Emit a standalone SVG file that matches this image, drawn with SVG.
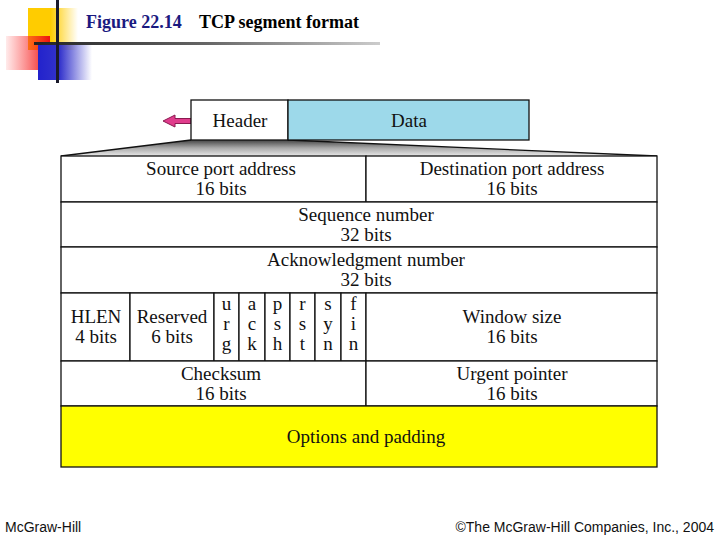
<svg xmlns="http://www.w3.org/2000/svg" width="720" height="540" viewBox="0 0 720 540">
<defs>
<linearGradient id="gY" x1="0" y1="0" x2="1" y2="0"><stop offset="0" stop-color="#FFCC00"/><stop offset="0.45" stop-color="#FFCC00"/><stop offset="1" stop-color="#FFCC00" stop-opacity="0"/></linearGradient>
<linearGradient id="gR" x1="0" y1="0" x2="1" y2="0"><stop offset="0" stop-color="#FF3333" stop-opacity="0.1"/><stop offset="1" stop-color="#EE1111"/></linearGradient>
<linearGradient id="gB" x1="0" y1="0" x2="1" y2="0"><stop offset="0" stop-color="#2222CC"/><stop offset="0.4" stop-color="#3333CC"/><stop offset="1" stop-color="#3333CC" stop-opacity="0"/></linearGradient>
<linearGradient id="gL" x1="0" y1="0" x2="1" y2="0"><stop offset="0" stop-color="#222"/><stop offset="0.5" stop-color="#666"/><stop offset="1" stop-color="#ccc"/></linearGradient>
<linearGradient id="gT" x1="0" y1="0" x2="0" y2="1"><stop offset="0" stop-color="#444"/><stop offset="0.5" stop-color="#aaa"/><stop offset="1" stop-color="#e8e8e8"/></linearGradient>
</defs>
<style>
.t{font-family:"Liberation Serif","DejaVu Serif",serif;font-size:19px;fill:#111;text-anchor:middle}
.c{fill:#fff;stroke:#111;stroke-width:1.3}
.f{font-family:"Liberation Sans",Arial,sans-serif;font-size:14px;fill:#111}
.h{font-family:"Liberation Serif",serif;font-weight:bold;font-size:18px}
</style>
<g id="decor">
<rect x="28" y="8" width="50" height="42" fill="url(#gY)"/>
<rect x="6" y="36" width="44" height="34" fill="url(#gR)"/>
<rect x="38" y="45" width="54" height="35" fill="url(#gB)"/>
<rect x="34" y="42" width="346" height="3" fill="url(#gL)"/>
<rect x="56" y="0" width="3" height="83" fill="#1a1a2a"/>
</g>
<g id="title">
<text x="86" y="28" class="h" fill="#1a1a80">Figure 22.14</text>
<text x="199" y="28" class="h" fill="#000">TCP segment format</text>
</g>
<g id="connectors">
<polygon points="191,140 288,140 657,156 61,156" fill="url(#gT)"/>
<path d="M191,140 L61,156 M288,140 L657,156" stroke="#111" stroke-width="1.3" fill="none"/>
<polygon points="163,121 175,115 175,118.5 191,118.5 191,123.5 175,123.5 175,127" fill="#E03C8C" stroke="#8a1a50" stroke-width="1"/>
</g>
<g id="header">
<rect x="191" y="100" width="97" height="40" class="c"/>
<text x="240" y="127" class="t">Header</text>
</g>
<g id="data">
<rect x="288" y="100" width="241" height="40" class="c" style="fill:#9DD9EA"/>
<text x="409" y="127" class="t">Data</text>
</g>
<g id="source-port">
<rect x="61" y="156" width="305" height="46" class="c"/>
<text x="221" y="175" class="t">Source port address</text>
<text x="221" y="195" class="t">16 bits</text>
</g>
<g id="dest-port">
<rect x="366" y="156" width="291" height="46" class="c"/>
<text x="512" y="175" class="t">Destination port address</text>
<text x="512" y="195" class="t">16 bits</text>
</g>
<g id="sequence">
<rect x="61" y="202" width="596" height="45" class="c"/>
<text x="366" y="221" class="t">Sequence number</text>
<text x="366" y="241" class="t">32 bits</text>
</g>
<g id="ack">
<rect x="61" y="247" width="596" height="46" class="c"/>
<text x="366" y="266" class="t">Acknowledgment number</text>
<text x="366" y="286" class="t">32 bits</text>
</g>
<g id="hlen">
<rect x="61" y="293" width="69" height="68" class="c"/>
<text x="96" y="323" class="t">HLEN</text>
<text x="96" y="343" class="t">4 bits</text>
</g>
<g id="reserved">
<rect x="130" y="293" width="84" height="68" class="c"/>
<text x="172" y="323" class="t">Reserved</text>
<text x="172" y="343" class="t">6 bits</text>
</g>
<g id="flag-urg">
<rect x="214" y="293" width="25" height="68" class="c"/>
<text x="226.5" y="310" class="t">u</text><text x="226.5" y="330" class="t">r</text><text x="226.5" y="350" class="t">g</text>
</g>
<g id="flag-ack">
<rect x="239" y="293" width="26" height="68" class="c"/>
<text x="252" y="310" class="t">a</text><text x="252" y="330" class="t">c</text><text x="252" y="350" class="t">k</text>
</g>
<g id="flag-psh">
<rect x="265" y="293" width="25" height="68" class="c"/>
<text x="277.5" y="310" class="t">p</text><text x="277.5" y="330" class="t">s</text><text x="277.5" y="350" class="t">h</text>
</g>
<g id="flag-rst">
<rect x="290" y="293" width="25" height="68" class="c"/>
<text x="302.5" y="310" class="t">r</text><text x="302.5" y="330" class="t">s</text><text x="302.5" y="350" class="t">t</text>
</g>
<g id="flag-syn">
<rect x="315" y="293" width="26" height="68" class="c"/>
<text x="328" y="310" class="t">s</text><text x="328" y="330" class="t">y</text><text x="328" y="350" class="t">n</text>
</g>
<g id="flag-fin">
<rect x="341" y="293" width="25" height="68" class="c"/>
<text x="353.5" y="310" class="t">f</text><text x="353.5" y="330" class="t">i</text><text x="353.5" y="350" class="t">n</text>
</g>
<g id="window">
<rect x="366" y="293" width="291" height="68" class="c"/>
<text x="512" y="323" class="t">Window size</text>
<text x="512" y="343" class="t">16 bits</text>
</g>
<g id="checksum">
<rect x="61" y="361" width="305" height="45" class="c"/>
<text x="221" y="380" class="t">Checksum</text>
<text x="221" y="400" class="t">16 bits</text>
</g>
<g id="urgent">
<rect x="366" y="361" width="291" height="45" class="c"/>
<text x="512" y="380" class="t">Urgent pointer</text>
<text x="512" y="400" class="t">16 bits</text>
</g>
<g id="options">
<rect x="61" y="406" width="596" height="61" class="c" style="fill:#FFFF00"/>
<text x="366" y="443" class="t">Options and padding</text>
</g>
<g id="footer">
<text x="5" y="532" class="f">McGraw-Hill</text>
<text x="714" y="532" class="f" style="text-anchor:end">©The McGraw-Hill Companies, Inc., 2004</text>
</g>
</svg>
